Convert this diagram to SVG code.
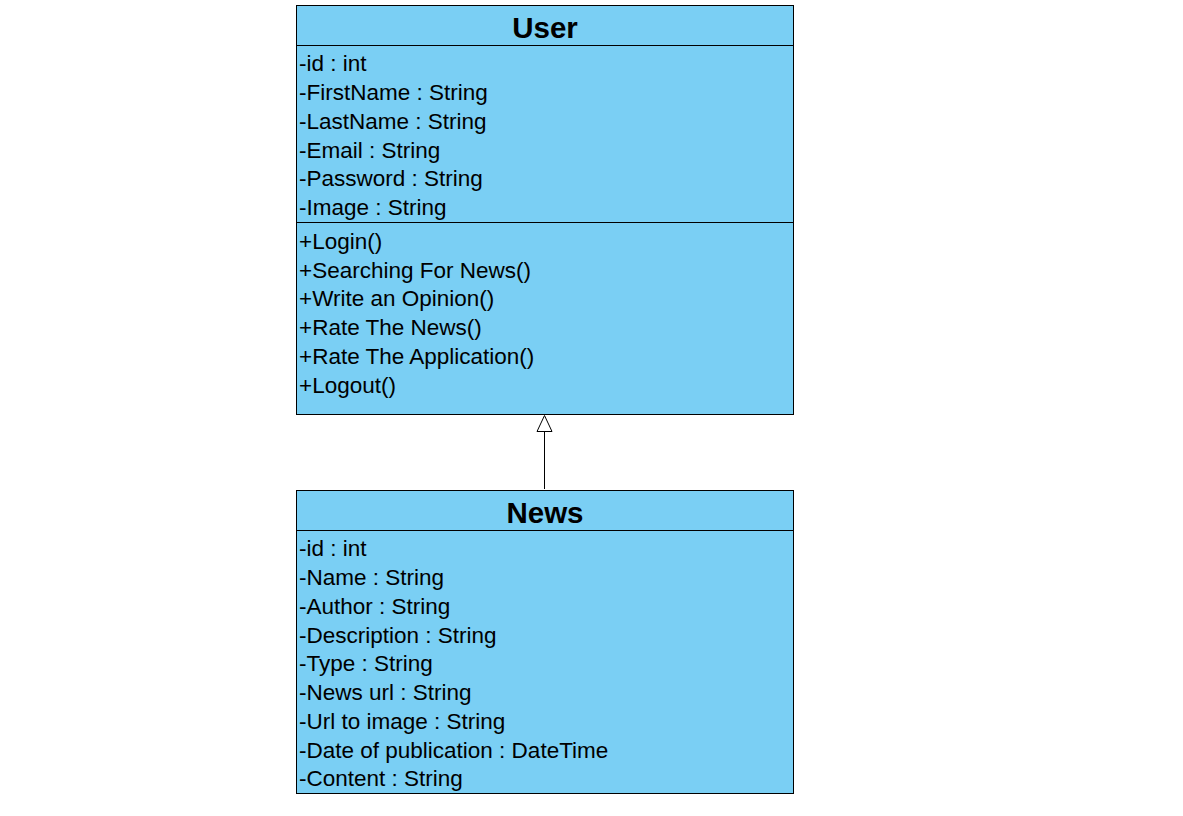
<svg xmlns="http://www.w3.org/2000/svg" width="1183" height="816" viewBox="0 0 1183 816">
<style>
.box{fill:#7acff4;stroke:#000;stroke-width:1}
.sep{stroke:#000;stroke-width:1}
.t{font-family:"Liberation Sans",Arial,sans-serif;font-size:22.5px;fill:#000}
.h{font-family:"Liberation Sans",Arial,sans-serif;font-size:29.5px;font-weight:bold;fill:#000;text-anchor:middle}
</style>
<rect width="1183" height="816" fill="#fff"/>
<g id="User">
<rect class="box" x="296.5" y="5.5" width="497" height="409"/>
<line class="sep" x1="296.5" y1="45.5" x2="793.5" y2="45.5"/>
<line class="sep" x1="296.5" y1="222.5" x2="793.5" y2="222.5"/>
<text class="h" x="545" y="38">User</text>
<text class="t" x="299" y="71">-id : int</text>
<text class="t" x="299" y="100">-FirstName : String</text>
<text class="t" x="299" y="129">-LastName : String</text>
<text class="t" x="299" y="158">-Email : String</text>
<text class="t" x="299" y="186">-Password : String</text>
<text class="t" x="299" y="215">-Image : String</text>
<text class="t" x="299" y="249">+Login()</text>
<text class="t" x="299" y="278">+Searching For News()</text>
<text class="t" x="299" y="306">+Write an Opinion()</text>
<text class="t" x="299" y="335">+Rate The News()</text>
<text class="t" x="299" y="364">+Rate The Application()</text>
<text class="t" x="299" y="393">+Logout()</text>
</g>
<g id="News">
<rect class="box" x="296.5" y="490.5" width="497" height="303"/>
<line class="sep" x1="296.5" y1="530.5" x2="793.5" y2="530.5"/>
<text class="h" x="545" y="523">News</text>
<text class="t" x="299" y="556">-id : int</text>
<text class="t" x="299" y="585">-Name : String</text>
<text class="t" x="299" y="614">-Author : String</text>
<text class="t" x="299" y="643">-Description : String</text>
<text class="t" x="299" y="671">-Type : String</text>
<text class="t" x="299" y="700">-News url : String</text>
<text class="t" x="299" y="729">-Url to image : String</text>
<text class="t" x="299" y="758">-Date of publication : DateTime</text>
<text class="t" x="299" y="786">-Content : String</text>
</g>
<g id="connectors">
<line x1="544.5" y1="489" x2="544.5" y2="431.5" stroke="#000" stroke-width="1"/>
<polygon points="544.5,415.5 537,431.5 552,431.5" fill="#fff" stroke="#000" stroke-width="1"/>
</g>
</svg>
